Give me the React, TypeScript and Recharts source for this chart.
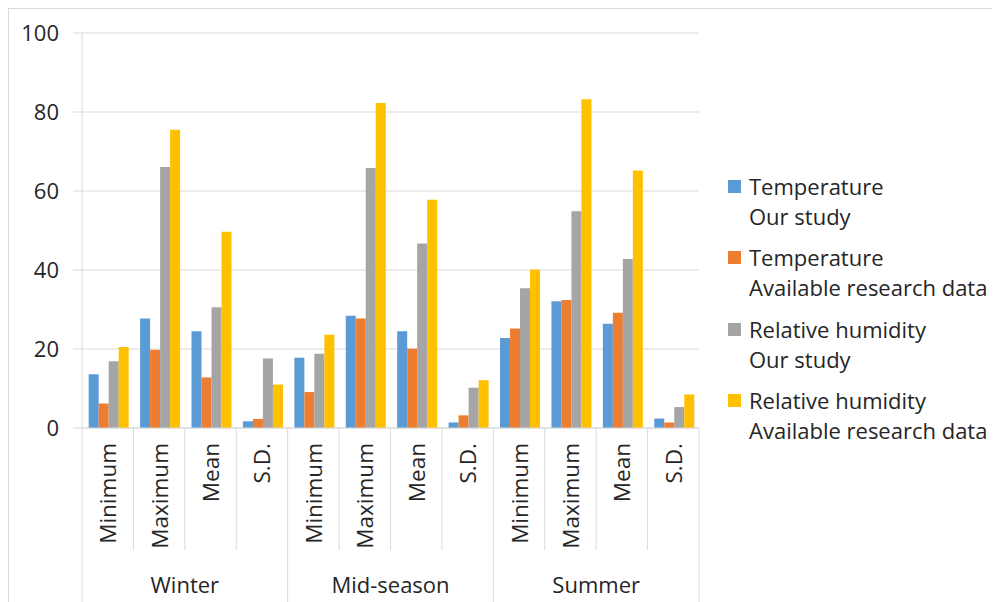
import React from 'react'
import { Bar, BarChart, CartesianGrid, XAxis, YAxis } from 'recharts'

const stats = ['Minimum', 'Maximum', 'Mean', 'S.D.', 'Minimum', 'Maximum', 'Mean', 'S.D.', 'Minimum', 'Maximum', 'Mean', 'S.D.']
const seasons = ['Winter', 'Mid-season', 'Summer']
const tempOurs = [13.6, 27.7, 24.5, 1.7, 17.8, 28.4, 24.5, 1.4, 22.8, 32.1, 26.4, 2.4]
const tempAvail = [6.2, 19.8, 12.8, 2.3, 9.1, 27.7, 20.1, 3.2, 25.2, 32.4, 29.2, 1.4]
const rhOurs = [16.9, 66.1, 30.6, 17.6, 18.8, 65.8, 46.7, 10.2, 35.4, 54.9, 42.8, 5.3]
const rhAvail = [20.5, 75.5, 49.7, 11.0, 23.6, 82.3, 57.8, 12.1, 40.1, 83.2, 65.2, 8.5]
const yTicks = [0, 20, 40, 60, 80, 100]

const series = [
  { key: 'tempOurs', color: '#5B9BD5', line1: 'Temperature', line2: 'Our study' },
  { key: 'tempAvail', color: '#ED7D31', line1: 'Temperature', line2: 'Available research data' },
  { key: 'rhOurs', color: '#A5A5A5', line1: 'Relative humidity', line2: 'Our study' },
  { key: 'rhAvail', color: '#FFC000', line1: 'Relative humidity', line2: 'Available research data' }
]

const data = stats.map((stat, i) => ({
  stat,
  season: seasons[Math.floor(i / 4)],
  tempOurs: tempOurs[i],
  tempAvail: tempAvail[i],
  rhOurs: rhOurs[i],
  rhAvail: rhAvail[i]
}))

const FONT = '"Open Sans", sans-serif'
const TEXT = '#262626'
const LINE = '#d9d9d9'

const CHART_W = 700
const CHART_H = 594
const MARGIN = { top: 25, right: 9, left: 14, bottom: 0 }
const Y_W = 60
const X_H = 174
const PLOT_BOTTOM = CHART_H - MARGIN.bottom - X_H
const CAT_W = (CHART_W - MARGIN.left - MARGIN.right - Y_W) / stats.length

function CategoryTick(props: any) {
  const { payload, index } = props
  const cx = payload.coordinate
  const left = cx - CAT_W / 2
  const right = cx + CAT_W / 2
  const isGroupStart = index % 4 === 0
  const isLast = index === stats.length - 1
  return (
    <g>
      <line x1={left} x2={left} y1={PLOT_BOTTOM} y2={PLOT_BOTTOM + (isGroupStart ? X_H : 122)} stroke={LINE} />
      {isLast && <line x1={right} x2={right} y1={PLOT_BOTTOM} y2={PLOT_BOTTOM + X_H} stroke={LINE} />}
      <text
        x={cx}
        y={PLOT_BOTTOM + 15}
        transform={`rotate(-90 ${cx} ${PLOT_BOTTOM + 15})`}
        textAnchor="end"
        dominantBaseline="central"
        fontSize={22.5}
        fontFamily={FONT}
        fill={TEXT}
      >
        {payload.value}
      </text>
      {index % 4 === 1 && (
        <text
          x={right}
          y={PLOT_BOTTOM + 156}
          textAnchor="middle"
          dominantBaseline="central"
          fontSize={22}
          fontFamily={FONT}
          fill={TEXT}
        >
          {data[index].season}
        </text>
      )}
    </g>
  )
}

export default function App() {
  return (
    <div style={{ position: 'relative', width: 992, height: 594, fontFamily: FONT }}>
      <div
        style={{
          position: 'absolute',
          left: 0,
          top: 0,
          width: 992,
          height: 594,
          borderLeft: `1px solid ${LINE}`,
          borderTop: `1px solid ${LINE}`
        }}
      />
      <BarChart
        width={CHART_W}
        height={CHART_H}
        data={data}
        margin={MARGIN}
        barCategoryGap="13%"
        barGap={0}
        style={{ position: 'absolute', left: 0, top: 0 }}
      >
        <CartesianGrid vertical={false} stroke={LINE} />
        <XAxis
          dataKey="stat"
          interval={0}
          height={X_H}
          axisLine={{ stroke: LINE }}
          tickLine={false}
          tick={<CategoryTick />}
        />
        <YAxis
          domain={[0, 100]}
          ticks={yTicks}
          width={Y_W}
          axisLine={{ stroke: LINE }}
          tickLine={{ stroke: LINE }}
          tickSize={9}
          tickMargin={14}
          tick={{ fontSize: 22, fontFamily: FONT, fill: TEXT }}
        />
        {series.map((s) => (
          <Bar key={s.key} dataKey={s.key} fill={s.color} isAnimationActive={false} />
        ))}
      </BarChart>
      <div style={{ position: 'absolute', left: 720, top: 163 }}>
        {series.map((s) => (
          <div key={s.key} style={{ position: 'relative', height: 71.3, paddingLeft: 21, color: TEXT, fontSize: 22, lineHeight: '30px', whiteSpace: 'nowrap' }}>
            <div style={{ position: 'absolute', left: 0, top: 9, width: 13, height: 13, background: s.color }} />
            <div>{s.line1}</div>
            <div>{s.line2}</div>
          </div>
        ))}
      </div>
    </div>
  )
}
